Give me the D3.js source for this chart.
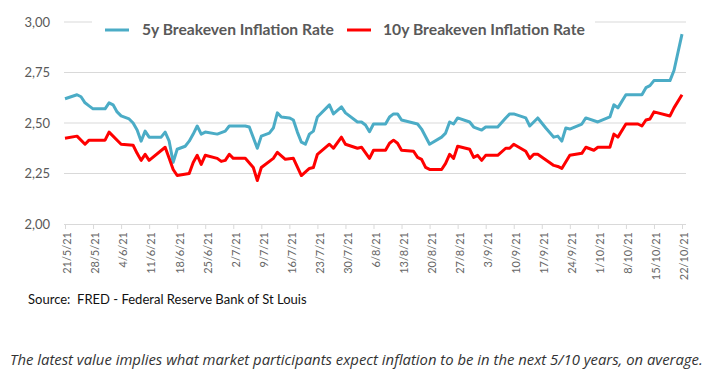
<!DOCTYPE html>
<html lang="en">
<head>
  <meta charset="UTF-8">
  <title>Breakeven Inflation Rates</title>
  <script src="https://d3js.org/d3.v7.min.js"></script>
  <style>
    body { margin: 0; background: #fff; font-family: Lato, sans-serif; }
    svg { display: block; }
  </style>
</head>
<body>
  <svg width="715" height="387"></svg>

  <script>
    // 5y breakeven, vertices
    const dates5y = [
      "21/5/21","24/5/21","25/5/21","26/5/21","27/5/21","28/5/21","31/5/21","1/6/21","2/6/21","3/6/21",
      "4/6/21","6/6/21","7/6/21","8/6/21","9/6/21","10/6/21","11/6/21","14/6/21","15/6/21","16/6/21",
      "17/6/21","18/6/21","20/6/21","21/6/21","22/6/21","23/6/21","24/6/21","25/6/21","28/6/21","30/6/21",
      "1/7/21","5/7/21","6/7/21","8/7/21","9/7/21","11/7/21","12/7/21","13/7/21","14/7/21","16/7/21",
      "17/7/21","18/7/21","19/7/21","20/7/21","21/7/21","22/7/21","23/7/21","26/7/21","27/7/21","29/7/21",
      "30/7/21","2/8/21","3/8/21","4/8/21","5/8/21","6/8/21","9/8/21","10/8/21","11/8/21","12/8/21",
      "13/8/21","17/8/21","18/8/21","20/8/21","23/8/21","24/8/21","25/8/21","26/8/21","27/8/21","30/8/21",
      "31/8/21","2/9/21","3/9/21","6/9/21","8/9/21","9/9/21","10/9/21","13/9/21","14/9/21","16/9/21",
      "18/9/21","20/9/21","21/9/21","22/9/21","23/9/21","24/9/21","27/9/21","28/9/21","1/10/21","4/10/21",
      "5/10/21","6/10/21","8/10/21","12/10/21","13/10/21","14/10/21","15/10/21","19/10/21","20/10/21","22/10/21"
    ];
    const rate5y = [
      2.62, 2.64, 2.63, 2.60, 2.585, 2.57, 2.57, 2.60, 2.59, 2.555,
      2.535, 2.52, 2.50, 2.465, 2.41, 2.46, 2.43, 2.43, 2.455, 2.41,
      2.305, 2.37, 2.385, 2.41, 2.445, 2.485, 2.445, 2.455, 2.445, 2.46,
      2.485, 2.485, 2.48, 2.375, 2.435, 2.45, 2.475, 2.55, 2.53, 2.525,
      2.515, 2.455, 2.405, 2.395, 2.445, 2.46, 2.53, 2.59, 2.545, 2.58,
      2.55, 2.505, 2.505, 2.49, 2.457, 2.495, 2.495, 2.53, 2.545, 2.545,
      2.515, 2.495, 2.47, 2.395, 2.43, 2.45, 2.505, 2.495, 2.525, 2.505,
      2.48, 2.465, 2.48, 2.48, 2.525, 2.545, 2.545, 2.525, 2.485, 2.525,
      2.475, 2.43, 2.435, 2.41, 2.475, 2.47, 2.495, 2.525, 2.505, 2.53,
      2.59, 2.575, 2.64, 2.64, 2.675, 2.685, 2.71, 2.71, 2.76, 2.94
    ];

    // 10y breakeven
    const dates10y = [
      "21/5/21","24/5/21","26/5/21","27/5/21","31/5/21","1/6/21","4/6/21","7/6/21","8/6/21","9/6/21",
      "10/6/21","11/6/21","15/6/21","16/6/21","17/6/21","18/6/21","21/6/21","22/6/21","23/6/21","24/6/21",
      "25/6/21","28/6/21","29/6/21","30/6/21","1/7/21","2/7/21","5/7/21","7/7/21","8/7/21","9/7/21",
      "12/7/21","13/7/21","15/7/21","17/7/21","19/7/21","21/7/21","22/7/21","23/7/21","26/7/21","27/7/21",
      "29/7/21","30/7/21","2/8/21","3/8/21","5/8/21","6/8/21","9/8/21","10/8/21","11/8/21","12/8/21",
      "13/8/21","16/8/21","17/8/21","18/8/21","19/8/21","20/8/21","23/8/21","24/8/21","25/8/21","26/8/21",
      "27/8/21","30/8/21","31/8/21","1/9/21","2/9/21","3/9/21","6/9/21","8/9/21","9/9/21","10/9/21",
      "13/9/21","14/9/21","15/9/21","16/9/21","20/9/21","21/9/21","22/9/21","24/9/21","27/9/21","28/9/21",
      "30/9/21","1/10/21","4/10/21","5/10/21","6/10/21","8/10/21","11/10/21","12/10/21","13/10/21","14/10/21",
      "15/10/21","19/10/21","20/10/21","22/10/21"
    ];
    const rate10y = [
      2.425, 2.435, 2.395, 2.415, 2.415, 2.455, 2.395, 2.39, 2.35, 2.315,
      2.345, 2.315, 2.38, 2.325, 2.27, 2.24, 2.25, 2.305, 2.34, 2.295,
      2.34, 2.325, 2.31, 2.315, 2.345, 2.325, 2.325, 2.28, 2.215, 2.28,
      2.325, 2.355, 2.32, 2.325, 2.24, 2.275, 2.28, 2.345, 2.395, 2.375,
      2.43, 2.395, 2.375, 2.38, 2.325, 2.365, 2.365, 2.40, 2.415, 2.40,
      2.365, 2.36, 2.33, 2.32, 2.28, 2.27, 2.27, 2.30, 2.345, 2.325,
      2.385, 2.37, 2.33, 2.34, 2.315, 2.34, 2.34, 2.375, 2.375, 2.395,
      2.36, 2.325, 2.345, 2.345, 2.29, 2.285, 2.275, 2.34, 2.35, 2.38,
      2.365, 2.38, 2.38, 2.445, 2.43, 2.495, 2.495, 2.485, 2.515, 2.52,
      2.555, 2.535, 2.575, 2.64
    ];

    const xTickLabels = [
      "21/5/21","28/5/21","4/6/21","11/6/21","18/6/21","25/6/21","2/7/21","9/7/21",
      "16/7/21","23/7/21","30/7/21","6/8/21","13/8/21","20/8/21","27/8/21","3/9/21",
      "10/9/21","17/9/21","24/9/21","1/10/21","8/10/21","15/10/21","22/10/21"
    ];
    const yTicks = [2.00, 2.25, 2.50, 2.75, 3.00];

    const seriesNames = ["5y Breakeven Inflation Rate", "10y Breakeven Inflation Rate"];
    const seriesColors = ["#4bacc6", "#ff0000"];

    const parse = d3.timeParse("%d/%m/%y");
    const svg = d3.select("svg");

    const x = d3.scaleTime()
      .domain([parse("21/5/21"), parse("22/10/21")])
      .range([65, 682]);
    const y = d3.scaleLinear().domain([2, 3]).range([224, 22]);

    // gridlines
    svg.append("g")
      .selectAll("line")
      .data(yTicks.slice(1))
      .join("line")
        .attr("x1", 64).attr("x2", 686)
        .attr("y1", d => y(d)).attr("y2", d => y(d))
        .attr("stroke", "#d9d9d9").attr("stroke-width", 1);

    // y labels
    svg.append("g")
      .selectAll("text")
      .data(yTicks)
      .join("text")
        .attr("x", 50)
        .attr("y", d => y(d))
        .attr("dy", "0.35em")
        .attr("text-anchor", "end")
        .attr("font-size", 13)
        .attr("fill", "#595959")
        .text(d => d3.format(".2f")(d).replace(".", ","));

    // x axis
    const xAxis = svg.append("g")
      .attr("transform", `translate(0,${y(2)})`)
      .call(d3.axisBottom(x)
        .tickValues(xTickLabels.map(parse))
        .tickSize(5)
        .tickSizeOuter(0)
        .tickFormat(d3.timeFormat("%-d/%-m/%y")));
    xAxis.select(".domain").attr("d", "M64,0.5H686").attr("stroke", "#d9d9d9");
    xAxis.selectAll(".tick line").attr("stroke", "#d9d9d9");
    xAxis.selectAll(".tick text")
      .attr("font-family", "Lato, sans-serif")
      .attr("font-size", 11)
      .attr("fill", "#666")
      .attr("transform", "rotate(-90)")
      .attr("text-anchor", "end")
      .attr("x", -8)
      .attr("y", 2)
      .attr("dy", "0.35em");

    // lines
    const line = d3.line()
      .x(d => x(d[0]))
      .y(d => y(d[1]));

    const series = [
      d3.zip(dates5y.map(parse), rate5y),
      d3.zip(dates10y.map(parse), rate10y)
    ];

    svg.append("g")
      .selectAll("path")
      .data(series)
      .join("path")
        .attr("d", line)
        .attr("fill", "none")
        .attr("stroke", (d, i) => seriesColors[i])
        .attr("stroke-width", 3)
        .attr("stroke-linejoin", "round");

    // legend
    svg.append("rect")
      .attr("x", 92).attr("y", 14).attr("width", 503).attr("height", 32)
      .attr("fill", "#fff");

    const legendX = [[105, 142], [347, 383]];
    const legendW = [192, 202];
    const legend = svg.append("g")
      .selectAll("g")
      .data(seriesNames)
      .join("g");
    legend.append("line")
      .attr("x1", (d, i) => legendX[i][0]).attr("x2", (d, i) => legendX[i][0] + 24)
      .attr("y1", 30).attr("y2", 30)
      .attr("stroke", (d, i) => seriesColors[i])
      .attr("stroke-width", 3);
    legend.append("text")
      .attr("x", (d, i) => legendX[i][1])
      .attr("y", 30)
      .attr("dy", "0.35em")
      .attr("font-weight", "bold")
      .attr("font-size", 15)
      .attr("fill", "#595959")
      .text(d => d)
      .each(function(d, i) { fitWidth(this, legendW[i]); });

    // notes
    svg.append("text")
      .attr("x", 28).attr("y", 299).attr("dy", "0.35em")
      .attr("font-size", 14)
      .attr("fill", "#111")
      .style("white-space", "pre")
      .text("Source:  FRED - Federal Reserve Bank of St Louis")
      .each(function() { fitWidth(this, 279); });

    svg.append("text")
      .attr("x", 10).attr("y", 360).attr("dy", "0.35em")
      .attr("font-size", 14)
      .attr("font-style", "italic")
      .attr("fill", "#333")
      .attr("font-family", "'Open Sans', sans-serif")
      .text("The latest value implies what market participants expect inflation to be in the next 5/10 years, on average.")
      .each(function() { fitWidth(this, 693); });

    function fitWidth(node, target) {
      const size = +node.getAttribute("font-size");
      const w = node.getComputedTextLength();
      node.setAttribute("font-size", (size * target / w).toFixed(2));
    }
  </script>
</body>
</html>
